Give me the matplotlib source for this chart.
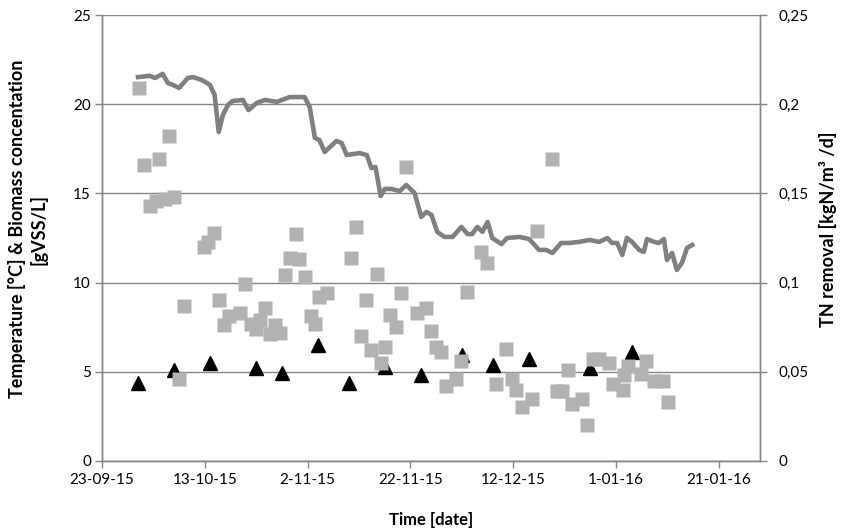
import numpy as np
import matplotlib
matplotlib.use('Agg')
import matplotlib.pyplot as plt
import matplotlib.dates as mdates
from matplotlib.ticker import FuncFormatter, MultipleLocator

plt.rcParams['font.family'] = ['Lato', 'DejaVu Sans']

start = np.datetime64('2015-09-23')

# temperature [°C] (line), x = days after 23-09-15
temp_day = [7, 9.3, 10.3, 11.8, 12.8, 13.8, 15, 16.7, 17.7, 19.4, 21, 21.9, 22.7, 23.5,
            24.5, 25.4, 27.4, 28.5, 30.1, 31.7, 34, 36.5, 39.4, 40.4, 41.4, 42.3, 43.3,
            45.6, 46.6, 47.6, 50.1, 51.5, 52.4, 53.2, 54.2, 55, 56.3, 57.9, 59.2, 60.8,
            62.1, 63.1, 64.1, 65.2, 66.6, 68.2, 69.9, 71.1, 72, 73, 74, 75, 75.9, 77.7,
            78.8, 81.2, 83.1, 85, 86.4, 87.6, 89.3, 90.9, 92.8, 94.8, 96.7, 98.3, 99.2,
            100.2, 101.2, 102.1, 103.1, 104.5, 105.4, 106, 107.4, 108.3, 109.3, 109.9,
            110.9, 111.8, 112.8, 113.8, 114.8]
temp = [21.52, 21.59, 21.47, 21.70, 21.19, 21.08, 20.91, 21.47, 21.52, 21.36, 21.08,
        20.52, 18.44, 19.39, 19.96, 20.18, 20.24, 19.67, 20.07, 20.24, 20.13, 20.40,
        20.40, 19.84, 18.11, 17.99, 17.32, 17.94, 17.83, 17.15, 17.26, 17.15, 16.42,
        16.48, 14.85, 15.25, 15.25, 15.13, 15.47, 15.02, 13.68, 13.96, 13.79, 12.84,
        12.56, 12.56, 13.12, 12.72, 12.72, 13.12, 12.84, 13.40, 12.50, 12.16, 12.50,
        12.56, 12.44, 11.83, 11.83, 11.66, 12.22, 12.22, 12.28, 12.39, 12.28, 12.50,
        12.22, 12.22, 11.55, 12.50, 12.28, 11.83, 11.72, 12.44, 12.28, 12.22, 12.44,
        11.27, 11.66, 10.71, 11.10, 11.94, 12.11]

# biomass concentration [gVSS/L] (triangles)
vss_day = [7, 14, 21, 30, 35, 42, 48, 55, 62, 70, 76, 83, 95, 103]
vss = [4.37, 5.10, 5.49, 5.21, 4.93, 6.50, 4.37, 5.27, 4.82, 5.94, 5.38, 5.72, 5.21, 6.11]

# TN removal [kgN/m3/d] (squares, right axis)
tn_day = [7.2, 8.2, 9.3, 10.5, 11.1, 12.2, 13, 14, 15, 15.9, 19.8, 20.6, 21.7, 22.7,
          23.7, 24.7, 26.8, 27.8, 28.9, 29.9, 30.7, 31.7, 32.6, 33.6, 34.6, 35.5, 36.5,
          37.7, 38.4, 39.4, 40.6, 41.4, 42.3, 43.7, 48.5, 49.5, 50.3, 51.3, 52.4, 53.4,
          54.2, 55.1, 56.1, 57.1, 58.1, 59.2, 61.2, 63.1, 63.9, 65, 66, 67, 68.9, 69.9,
          70.9, 73.8, 74.8, 76.7, 78.6, 79.8, 80.6, 81.6, 83.7, 84.7, 87.6, 88.5, 89.5,
          90.7, 91.5, 93.4, 94.4, 95.5, 96.7, 98.6, 99.4, 101.4, 101.6, 102.3, 104.9,
          105.8, 107.4, 109.1, 110.1]
tn = [0.209, 0.166, 0.143, 0.146, 0.169, 0.147, 0.182, 0.148, 0.046, 0.087, 0.120,
      0.123, 0.128, 0.090, 0.076, 0.081, 0.083, 0.099, 0.077, 0.074, 0.079, 0.086,
      0.071, 0.076, 0.072, 0.104, 0.114, 0.127, 0.113, 0.103, 0.081, 0.077, 0.092,
      0.094, 0.114, 0.131, 0.070, 0.090, 0.062, 0.105, 0.055, 0.064, 0.082, 0.075,
      0.094, 0.165, 0.083, 0.086, 0.073, 0.064, 0.061, 0.042, 0.046, 0.056, 0.095,
      0.117, 0.111, 0.043, 0.063, 0.046, 0.040, 0.030, 0.035, 0.129, 0.169, 0.039,
      0.039, 0.051, 0.032, 0.035, 0.020, 0.057, 0.057, 0.055, 0.043, 0.040, 0.048,
      0.053, 0.049, 0.056, 0.045, 0.045, 0.033]

x0 = mdates.date2num(start)
def to_x(days):
    return x0 + np.asarray(days, dtype=float)

axis_col = '#868686'

fig = plt.figure(figsize=(8.46, 5.32), dpi=100)
ax = fig.add_axes([0.1206, 0.1335, 0.7778, 0.8383])
ax2 = ax.twinx()

ax.plot(to_x(temp_day), temp, color='#808080', lw=3.3, solid_joinstyle='round', zorder=3)
ax.plot(to_x(vss_day), vss, ls='none', marker='^', ms=10, color='black', mec='black', zorder=4)
ax2.plot(to_x(tn_day), tn, ls='none', marker='s', ms=10.5, color='#b2b2b2', mec='none', zorder=5)

ax.set_xlim(x0, x0 + 128)
ax.set_ylim(0, 25)
ax2.set_ylim(0, 0.25)
ax.yaxis.set_major_locator(MultipleLocator(5))
ax2.yaxis.set_major_locator(MultipleLocator(0.05))
ax.set_xticks(to_x(np.arange(0, 121, 20)))

def date_fmt(v, pos):
    d = mdates.num2date(v)
    return f"{d.day}-{d.month:02d}-{d.strftime('%y')}"
ax.xaxis.set_major_formatter(FuncFormatter(date_fmt))
ax2.yaxis.set_major_formatter(FuncFormatter(lambda v, p: f"{v:g}".replace('.', ',')))

ax.grid(axis='y', color=axis_col, lw=1)
ax.set_axisbelow(True)
for a in (ax, ax2):
    a.spines['top'].set_visible(False)
    for s in ('left', 'right', 'bottom'):
        a.spines[s].set_color(axis_col)
        a.spines[s].set_linewidth(1)
ax.tick_params(axis='both', colors=axis_col, labelcolor='black', labelsize=11, length=5, width=1)
ax.tick_params(axis='y', pad=3)
ax2.tick_params(axis='y', colors=axis_col, labelcolor='black', labelsize=11, length=5, width=1, pad=8)

ax.set_ylabel('Temperature [°C] & Biomass concentation\n[gVSS/L]', fontsize=13,
              fontweight='bold', linespacing=1.25)
ax.yaxis.set_label_coords(-0.083, 0.52)
ax2.set_ylabel('TN removal [kgN/m³ /d]', fontsize=13, fontweight='bold')
ax2.yaxis.set_label_coords(1.09, 0.52)
ax.set_xlabel('Time [date]', fontsize=12, fontweight='bold')
ax.xaxis.set_label_coords(0.5, -0.115)

fig.savefig('out.png', dpi=100)
